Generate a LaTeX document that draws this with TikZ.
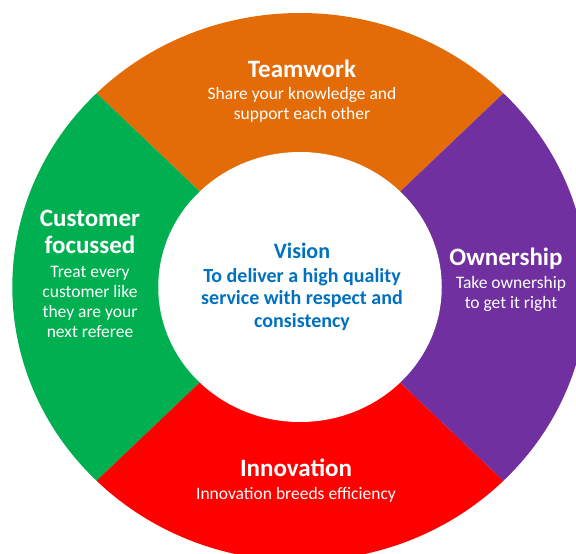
\documentclass[tikz,border=0pt]{standalone}
\usepackage{fontspec}
\setmainfont{Carlito}
\usetikzlibrary{positioning}

\definecolor{teamorange}{HTML}{E36C09}
\definecolor{ownpurple}{HTML}{7030A0}
\definecolor{innored}{HTML}{FF0000}
\definecolor{custgreen}{HTML}{00B050}
\definecolor{visionblue}{HTML}{0070C0}

\tikzset{
  title/.style={text=white,font=\fontsize{25}{27}\selectfont\bfseries,align=center,inner sep=0pt,anchor=base},
  sub/.style={text=white,font=\fontsize{17.5}{20}\selectfont,align=center,inner sep=0pt,anchor=base},
  vis/.style={text=visionblue,font=\fontsize{20}{22.5}\selectfont\bfseries,align=center,inner sep=0pt,anchor=base}
}

\begin{document}
\begin{tikzpicture}[x=1pt,y=-1pt]
\useasboundingbox (0,0) rectangle (576,554);
\clip (0,0) rectangle (576,554);

\coordinate (c) at (300,287);

% the four segments, then the white middle
\begin{scope}[shift={(c)},xscale=1.05,yscale=-1]
  \fill[teamorange] (0,0) -- (45:274) arc[start angle=45,end angle=135,radius=274] -- cycle;
  \fill[custgreen] (0,0) -- (135:274) arc[start angle=135,end angle=225,radius=274] -- cycle;
  \fill[innored] (0,0) -- (225:274) arc[start angle=225,end angle=315,radius=274] -- cycle;
  \fill[ownpurple] (0,0) -- (315:274) arc[start angle=315,end angle=405,radius=274] -- cycle;
  \fill[white] (0,0) circle[radius=135];
\end{scope}

% Teamwork (anchor=base sits on the last line)
\node[title] (team) at (302,77) {Teamwork};
\node[sub] (teamtxt) at (302,119) {Share your knowledge and\\support each other};

% Customer focussed
\node[title] (cust) at (90,253) {Customer\\focussed};
\node[sub] (custtxt) at (90,337) {Treat every\\customer like\\they are your\\next referee};

% Ownership
\node[title] (own) at (506,265) {Ownership};
\node[sub] (owntxt) at (511,308) {Take ownership\\to get it right};

% Innovation
\node[title] (inno) at (296,476) {Innovation};
\node[sub] (innotxt) at (296,499) {Innovation breeds efficiency};

% Vision in the middle
\node[vis,font=\fontsize{22}{24}\selectfont\bfseries] (vis) at (302,258) {Vision};
\node[vis] (vistxt) at (302,327) {To deliver a high quality\\service with respect and\\consistency};

\end{tikzpicture}
\end{document}
